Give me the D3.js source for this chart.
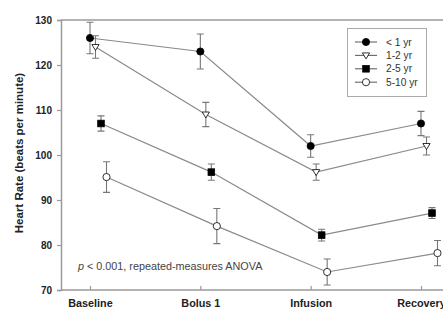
<!DOCTYPE html>
<html>
<head>
<meta charset="utf-8">
<script src="https://cdn.jsdelivr.net/npm/d3@7"></script>
<style>
  body { margin: 0; background: #fff; }
  text { font-family: "Liberation Sans", Arial, sans-serif; }
</style>
</head>
<body>
<svg id="chart" width="443" height="310"></svg>
<script>
var phases = ["Baseline", "Bolus 1", "Infusion", "Recovery"];
var groups = ["< 1 yr", "1-2 yr", "2-5 yr", "5-10 yr"];
var means = [
    [126, 123, 102, 107],
    [124, 109, 96.2, 102],
    [107, 96.2, 82.2, 87.1],
    [95.1, 84.2, 74, 78.2]
];
var errors = [
    [3.5, 3.9, 2.5, 2.7],
    [2.5, 2.7, 1.8, 2],
    [1.7, 1.8, 1.3, 1.2],
    [3.4, 3.9, 2.9, 2.8]
];
var yTicks = [70, 80, 90, 100, 110, 120, 130];
var markers = ["circle", "triangle", "square", "circle"];
var fills = ["#000", "#fff", "#000", "#fff"];

var svg = d3.select("#chart");
var plotLeft = 61, plotRight = 443, plotTop = 20, plotBottom = 290;

var x = d3.scalePoint().domain(phases).range([90, 421]);
var offset = d3.scalePoint().domain(groups).range([0, 16.5]);
var y = d3.scaleLinear().domain([70, 130]).range([plotBottom, plotTop]);

var axisColor = "#9a9a9a";

// top border
svg.append("line")
    .attr("x1", plotLeft).attr("x2", plotRight)
    .attr("y1", plotTop).attr("y2", plotTop)
    .attr("stroke", axisColor).attr("stroke-width", 1.5);

// y axis
var yAxis = svg.append("g")
    .attr("transform", "translate(" + plotLeft + ",0)")
    .call(d3.axisLeft(y).tickValues(yTicks).tickSize(4).tickPadding(5));
yAxis.select(".domain").attr("stroke", axisColor).attr("stroke-width", 1.5);
yAxis.selectAll(".tick line").attr("stroke", axisColor).attr("stroke-width", 1.2);
yAxis.selectAll("text")
    .attr("font-size", 10).attr("font-weight", "bold").attr("fill", "#222")
    .attr("font-family", "Liberation Sans, Arial, sans-serif");

// x axis
var xAxis = svg.append("g")
    .attr("transform", "translate(0," + plotBottom + ")")
    .call(d3.axisBottom(x).tickSizeInner(-4).tickSizeOuter(0).tickPadding(9));
xAxis.select(".domain").attr("d", "M" + plotLeft + ",0H" + plotRight)
    .attr("stroke", axisColor).attr("stroke-width", 1.5);
xAxis.selectAll(".tick line").attr("y2", -4).attr("stroke", axisColor).attr("stroke-width", 1.2);
xAxis.selectAll("text")
    .attr("font-size", 10.8).attr("font-weight", "bold").attr("fill", "#222")
    .attr("font-family", "Liberation Sans, Arial, sans-serif");

// y label
svg.append("text")
    .attr("transform", "translate(23,153) rotate(-90)")
    .attr("text-anchor", "middle")
    .attr("font-size", 11.5).attr("font-weight", "bold").attr("fill", "#222")
    .text("Heart Rate (beats per minute)");

// annotation
var note = svg.append("text")
    .attr("x", 78).attr("y", 270)
    .attr("font-size", 10.8).attr("fill", "#444");
note.append("tspan").attr("font-style", "italic").text("p");
note.append("tspan").text(" < 0.001, repeated-measures ANOVA");

var px = function(gi, pi) { return x(phases[pi]) + offset(groups[gi]); };

var drawMarker = function(sel, kind, fill, cx, cy) {
    if (kind === "circle") {
        sel.append("circle").attr("cx", cx).attr("cy", cy).attr("r", 3.6)
            .attr("fill", fill).attr("stroke", "#000").attr("stroke-width", 0.8);
    } else if (kind === "square") {
        sel.append("rect").attr("x", cx - 3.3).attr("y", cy - 3.3)
            .attr("width", 6.6).attr("height", 6.6)
            .attr("fill", fill).attr("stroke", "#000").attr("stroke-width", 0.8);
    } else {
        sel.append("path")
            .attr("d", "M" + (cx - 3.6) + "," + (cy - 2.5) + "L" + (cx + 3.6) + "," + (cy - 2.5) +
                "L" + cx + "," + (cy + 3.5) + "Z")
            .attr("fill", fill).attr("stroke", "#000").attr("stroke-width", 0.8);
    }
};

var line = d3.line();

groups.forEach(function(g, gi) {
    var grp = svg.append("g");
    var pts = means[gi].map(function(v, pi) { return [px(gi, pi), y(v)]; });
    grp.append("path").attr("d", line(pts))
        .attr("fill", "none").attr("stroke", "#8a8a8a").attr("stroke-width", 1.2);
    means[gi].forEach(function(v, pi) {
        var cx = px(gi, pi), e = errors[gi][pi];
        var y1 = y(v + e), y2 = y(v - e);
        grp.append("path")
            .attr("d", "M" + cx + "," + y1 + "V" + y2 +
                "M" + (cx - 3.5) + "," + y1 + "H" + (cx + 3.5) +
                "M" + (cx - 3.5) + "," + y2 + "H" + (cx + 3.5))
            .attr("fill", "none").attr("stroke", "#777").attr("stroke-width", 1.1);
    });
    means[gi].forEach(function(v, pi) {
        drawMarker(grp, markers[gi], fills[gi], px(gi, pi), y(v));
    });
});

// legend
var legend = svg.append("g");
legend.append("rect")
    .attr("x", 347.5).attr("y", 28.5).attr("width", 79).attr("height", 68)
    .attr("fill", "#fff").attr("stroke", "#aaa").attr("stroke-width", 1);
groups.forEach(function(g, gi) {
    var ly = 42 + gi * 13.4;
    legend.append("line").attr("x1", 355).attr("x2", 377).attr("y1", ly).attr("y2", ly)
        .attr("stroke", "#666").attr("stroke-width", 1.1);
    drawMarker(legend, markers[gi], fills[gi], 366, ly);
    legend.append("text").attr("x", 386).attr("y", ly + 3.5)
        .attr("font-size", 10.2).attr("fill", "#333").text(g);
});
</script>
</body>
</html>
